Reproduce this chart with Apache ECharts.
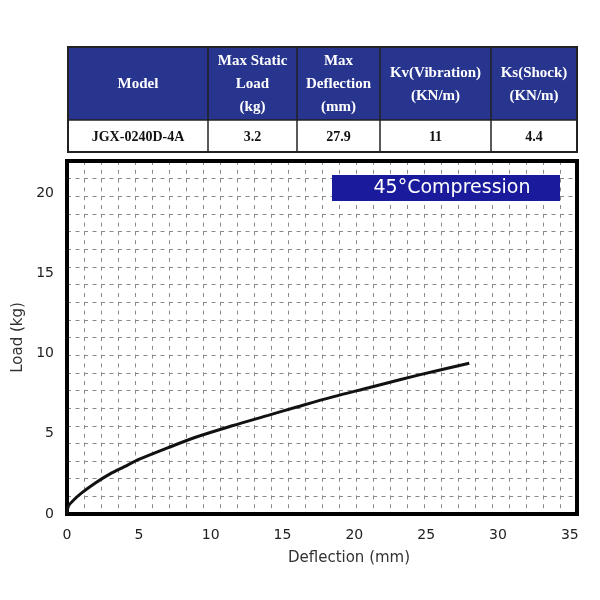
<!DOCTYPE html>
<html>
    <head>
        <meta charset="UTF-8" />
        <script src="https://cdn.jsdelivr.net/npm/echarts@6/dist/echarts.min.js"></script>
        <style>
            body { margin: 0; background: #fff; }
        </style>
    </head>

    <body>
        <div id="main" style="width: 600px; height: 600px"></div>
        <script type="text/javascript">
            // table contents
            var tableHeaders = [
                ['Model'],
                ['Max Static', 'Load', '(kg)'],
                ['Max', 'Deflection', '(mm)'],
                ['Kv(Vibration)', '(KN/m)'],
                ['Ks(Shock)', '(KN/m)']
            ];
            var tableRow = ['JGX-0240D-4A', '3.2', '27.9', '11', '4.4'];

            // load curve: deflection (mm) / load (kg)
            var deflection = [0, 0.1, 0.5, 1, 2, 3, 4, 5, 7, 9, 11.5, 14, 16, 18.5, 21, 23.3, 25.6, 28];
            var load = [0, 0.5, 0.9, 1.3, 1.95, 2.5, 2.95, 3.4, 4.12, 4.8, 5.5, 6.15, 6.67, 7.3, 7.87, 8.4, 8.9, 9.4];

            var xTicks = [0, 5, 10, 15, 20, 25, 30, 35];
            var yTicks = [0, 5, 10, 15, 20];
            var boxLabel = '45°Compression';

            var chart = echarts.init(document.getElementById('main'));

            // table drawn with graphic elements
            var colEdges = [68, 208, 297, 380, 491, 577];
            var headTop = 47, headBottom = 120, rowBottom = 152;
            var graphics = [];
            graphics.push({
                type: 'rect',
                shape: { x: colEdges[0], y: headTop, width: colEdges[5] - colEdges[0], height: headBottom - headTop },
                style: { fill: '#27358f' }
            });
            for (var c = 0; c < 5; c++) {
                var cx = (colEdges[c] + colEdges[c + 1]) / 2;
                var lines = tableHeaders[c];
                var mid = (headTop + headBottom) / 2 + 1;
                for (var l = 0; l < lines.length; l++) {
                    graphics.push({
                        type: 'text',
                        x: cx,
                        y: mid + (l - (lines.length - 1) / 2) * 23,
                        style: {
                            text: lines[l],
                            fill: '#fff',
                            font: 'bold 15px "Liberation Serif"',
                            align: 'center',
                            verticalAlign: 'middle'
                        }
                    });
                }
                graphics.push({
                    type: 'text',
                    x: cx,
                    y: (headBottom + rowBottom) / 2 + 1,
                    style: {
                        text: tableRow[c],
                        fill: '#111',
                        font: 'bold 14px "Liberation Serif"',
                        align: 'center',
                        verticalAlign: 'middle'
                    }
                });
            }
            // table lines
            for (var i = 1; i < 5; i++) {
                graphics.push({
                    type: 'line',
                    shape: { x1: colEdges[i], y1: headTop, x2: colEdges[i], y2: rowBottom },
                    style: { stroke: '#222', lineWidth: 1.5 }
                });
            }
            graphics.push({
                type: 'line',
                shape: { x1: colEdges[0], y1: headBottom, x2: colEdges[5], y2: headBottom },
                style: { stroke: '#222', lineWidth: 1.5 }
            });
            graphics.push({
                type: 'rect',
                shape: { x: colEdges[0], y: headTop, width: colEdges[5] - colEdges[0], height: rowBottom - headTop },
                style: { fill: 'none', stroke: '#222', lineWidth: 2 }
            });

            // blue label box inside the plot
            graphics.push({
                type: 'rect',
                shape: { x: 332, y: 175, width: 228, height: 26 },
                style: { fill: '#1a1a9c' },
                z: 10
            });
            graphics.push({
                type: 'text',
                x: 452,
                y: 188,
                style: {
                    text: boxLabel,
                    fill: '#fff',
                    font: '19px "DejaVu Sans"',
                    align: 'center',
                    verticalAlign: 'middle'
                },
                z: 11
            });

            var option = {
                animation: false,
                textStyle: { fontFamily: 'DejaVu Sans' },
                grid: {
                    left: 67,
                    right: 23,
                    top: 161,
                    bottom: 86,
                    show: true,
                    borderColor: '#000',
                    borderWidth: 4,
                    z: 5
                },
                graphic: graphics,
                xAxis: [
                    {
                        type: 'value',
                        min: 0,
                        max: 35.5,
                        interval: 5,
                        name: 'Deflection (mm)',
                        nameLocation: 'middle',
                        nameGap: 37,
                        nameTextStyle: { fontSize: 15, color: '#333', padding: [0, 0, 0, 54] },
                        axisLine: { show: false },
                        axisTick: { show: false },
                        axisLabel: { fontSize: 14, color: '#222', margin: 14, showMaxLabel: false },
                        splitLine: { show: false }
                    },
                    {
                        // graph-paper columns
                        type: 'value',
                        position: 'top',
                        min: 0,
                        max: 30,
                        interval: 1,
                        axisLine: { show: false },
                        axisTick: { show: false },
                        axisLabel: { show: false },
                        splitLine: { show: true, lineStyle: { color: '#8a8a8a', width: 1, type: [4, 4.8] } }
                    }
                ],
                yAxis: [
                    {
                        type: 'value',
                        min: 0,
                        max: 22,
                        interval: 5,
                        name: 'Load (kg)',
                        nameLocation: 'middle',
                        nameGap: 36,
                        nameTextStyle: { fontSize: 15, color: '#333' },
                        axisLine: { show: false },
                        axisTick: { show: false },
                        axisLabel: { fontSize: 14, color: '#222', margin: 13, showMaxLabel: false },
                        splitLine: { show: false }
                    },
                    {
                        // graph-paper rows
                        type: 'value',
                        position: 'right',
                        min: 0,
                        max: 20,
                        interval: 1,
                        axisLine: { show: false },
                        axisTick: { show: false },
                        axisLabel: { show: false },
                        splitLine: { show: true, lineStyle: { color: '#8a8a8a', width: 1, type: [4, 4.5] } }
                    }
                ],
                series: [
                    {
                        name: 'Load',
                        type: 'line',
                        xAxisIndex: 0,
                        yAxisIndex: 0,
                        smooth: 0.3,
                        symbol: 'none',
                        lineStyle: { color: '#111', width: 3 },
                        data: deflection.map(function (d, k) { return [d, load[k]]; }),
                        z: 6
                    }
                ]
            };

            option && chart.setOption(option);
        </script>
    </body>
</html>
